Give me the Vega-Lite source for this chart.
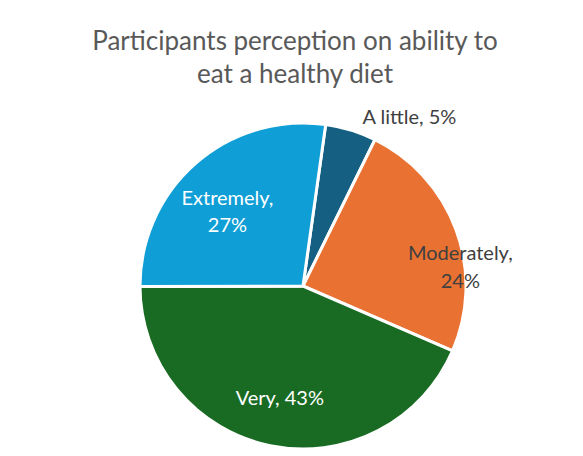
{
  "$schema": "https://vega.github.io/schema/vega-lite/v6.json",
  "width": 583,
  "height": 456,
  "autosize": {"type": "fit", "contains": "padding"},
  "padding": {"left": 23, "right": 0, "top": 37, "bottom": 0},
  "background": "white",
  "title": {
    "text": ["Participants perception on ability to", "eat a healthy diet"],
    "fontSize": 26,
    "font": "Lato",
    "fontWeight": "normal",
    "color": "#595959",
    "lineHeight": 33,
    "anchor": "middle",
    "offset": 20,
    "dx": -8
  },
  "data": {
    "values": [
      {"category": "A little", "value": 5, "idx": 1, "label": "A little, 5%"},
      {"category": "Moderately", "value": 24, "idx": 2, "label": ["Moderately,", "24%"]},
      {"category": "Very", "value": 43, "idx": 3, "label": "Very, 43%"},
      {"category": "Extremely", "value": 27, "idx": 4, "label": ["Extremely,", "27%"]}
    ]
  },
  "encoding": {
    "theta": {"field": "value", "type": "quantitative", "stack": true, "scale": {"range": [0.1396, 6.4228]}},
    "order": {"field": "idx", "type": "quantitative"}
  },
  "layer": [
    {
      "mark": {"type": "arc", "outerRadius": 163, "stroke": "white", "strokeWidth": 3},
      "encoding": {
        "color": {
          "field": "category",
          "type": "nominal",
          "scale": {"domain": ["A little", "Moderately", "Very", "Extremely"], "range": ["#156082", "#E97132", "#196B24", "#0F9ED5"]},
          "legend": null
        }
      }
    },
    {
      "mark": {"type": "text", "radius": 115, "font": "Lato", "fontSize": 20, "color": "white", "lineHeight": 27, "baseline": "middle", "align": "center"},
      "encoding": {
        "text": {"condition": {"test": "datum.category === 'Very' || datum.category === 'Extremely'", "field": "label"}, "value": ""}
      }
    },
    {
      "mark": {"type": "text", "radius": 158, "dx": 9, "dy": 23, "font": "Lato", "fontSize": 20, "color": "#404040", "lineHeight": 28, "baseline": "middle", "align": "center"},
      "encoding": {
        "text": {"condition": {"test": "datum.category === 'Moderately'", "field": "label"}, "value": ""}
      }
    },
    {
      "mark": {"type": "text", "radius": 199, "dx": 48, "dy": 22, "font": "Lato", "fontSize": 20, "color": "#404040", "lineHeight": 27, "baseline": "middle", "align": "center"},
      "encoding": {
        "text": {"condition": {"test": "datum.category === 'A little'", "field": "label"}, "value": ""}
      }
    }
  ]
}
